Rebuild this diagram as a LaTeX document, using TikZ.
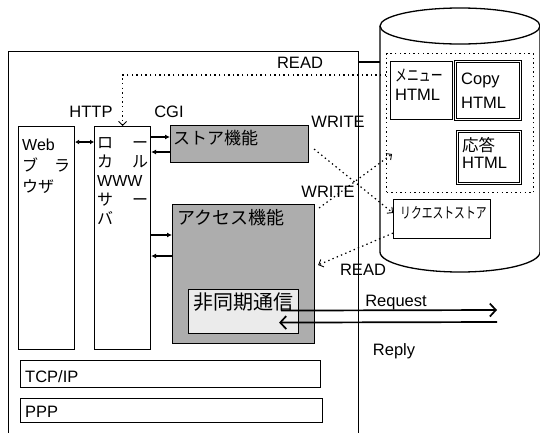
\documentclass[tikz,border=0pt]{standalone}
\usepackage{fontspec}
\setmainfont{Liberation Sans}
\newfontfamily\jp{Noto Sans CJK JP}
\usetikzlibrary{arrows.meta}

\begin{document}
\begin{tikzpicture}[x=1pt, y=-1pt, >=Stealth,
  font=\fontsize{16.5}{19}\selectfont,
  b/.style={draw, line width=1.1pt, inner sep=0pt, anchor=north west},
  shd/.style={b, fill=black!32},
  dbl/.style={b, double, double distance=1.5pt, line width=0.7pt},
  txt/.style={inner sep=0pt, anchor=base west, align=left},
  lbl/.style={inner sep=0pt},
  dots/.style={line width=1.2pt, dash pattern=on 1.4pt off 3.2pt},
  dotarr/.style={dots, -{Straight Barb[length=4pt,width=8pt,line width=0.9pt]}},
  arr/.style={line width=1.1pt, -{Latex[length=5pt,width=5pt]}},
  msg/.style={line width=1.7pt, -{Straight Barb[length=6pt,width=13pt]}}]
  \useasboundingbox (0,0) rectangle (540,432);
  % host pc
  \node[b, line width=1.3pt, minimum width=350pt, minimum height=420pt] (host) at (8,51) {};
  % database
  \draw[line width=1.3pt] (380,26) -- (380,252) arc[start angle=180, end angle=0, x radius=80, y radius=20] -- (540,26);
  \draw[line width=1.3pt, fill=white] (460,26) ellipse[x radius=80, y radius=18];
  \coordinate (dbw) at (380,62);
  \draw[line width=1.3pt] (host.north east |- dbw) -- (dbw);
  \node[b, dots, minimum width=147pt, minimum height=139pt] (html) at (386,53) {};
  \node[b, minimum width=62pt, minimum height=58pt] (menu) at (390,61) {};
  \node[txt, font=\fontsize{16.5}{19}\selectfont] (menutxt) at (395,100) {\scalebox{0.72}[1]{\jp メニュー}\\HTML};
  \node[dbl, minimum width=65pt, minimum height=58pt] (copy) at (455,61) {};
  \node[txt, font=\fontsize{16.5}{24}\selectfont] (copytxt) at (461,108) {Copy\\HTML};
  \node[dbl, minimum width=63pt, minimum height=52pt] (resp) at (457,131) {};
  \node[txt, font=\fontsize{16.5}{17}\selectfont] (resptxt) at (462,168) {{\jp 応答}\\HTML};
  \node[b, fill=white, minimum width=97pt, minimum height=39pt] (reqstore) at (393,199) {};
  \node[txt] (reqtxt) at (400,218) {\scalebox{0.72}[1]{\jp\fontsize{15}{17}\selectfont リクエストストア}};
  % browser and server
  \node[b, minimum width=56pt, minimum height=223pt] (web) at (18,126) {};
  \node[txt, text width=48pt, font=\fontsize{16}{21}\selectfont] (webtxt) at (22,150) {Web\\{\jp ブ\hfill ラ}\\{\jp ウザ}};
  \node[b, minimum width=56pt, minimum height=223pt] (local) at (94,126) {};
  \node[txt, text width=51pt, font=\fontsize{16}{19}\selectfont] (localtxt) at (97,148)
    {{\jp ロ\hfill ー}\\{\jp カ\hfill ル}\\WWW\\{\jp サ\hfill ー}\\{\jp バ}};
  \node[shd, minimum width=138pt, minimum height=37pt] (store) at (170,125) {};
  \node[txt, font=\jp\fontsize{17}{19}\selectfont] (storetxt) at (173,144) {ストア機能};
  \node[shd, minimum width=142pt, minimum height=139pt] (access) at (172,204) {};
  \node[txt, font=\jp\fontsize{18}{20}\selectfont] (accesstxt) at (177,224) {アクセス機能};
  \node[b, fill=black!8, minimum width=110pt, minimum height=44pt] (async) at (188,289) {};
  \node[txt, font=\jp\fontsize{20}{22}\selectfont] (asynctxt) at (193,309) {非同期通信};
  \node[b, minimum width=300pt, minimum height=27pt] (tcp) at (20,360) {};
  \node[txt] (tcptxt) at (25,382) {TCP/IP};
  \node[b, minimum width=302pt, minimum height=24pt] (ppp) at (20,398) {};
  \node[txt] (ppptxt) at (25,417) {PPP};
  % labels
  \node[lbl] (http) at (91,112) {HTTP};
  \node[lbl] (cgi) at (169,112) {CGI};
  \node[lbl] (read1) at (300,63) {READ};
  \node[lbl] (write1) at (338,122) {WRITE};
  \node[lbl] (write2) at (328,192) {WRITE};
  \node[lbl] (read2) at (363,270) {READ};
  \node[lbl] (reqlbl) at (396,303) {Request};
  \node[lbl] (replbl) at (394,351) {Reply};
  % connectors
  \draw[<->, line width=1.1pt, >={Latex[length=4pt,width=5pt]}] ([shift={(0,16)}]web.north east) -- ([shift={(0,16)}]local.north west);
  \draw[arr] ([shift={(0,11)}]local.north east) -- ([shift={(0,12)}]store.north west);
  \draw[arr] ([shift={(0,27)}]store.north west) -- ([shift={(0,26)}]local.north east);
  \draw[arr] ([shift={(0,109)}]local.north east) -- ([shift={(0,31)}]access.north west);
  \draw[arr] ([shift={(0,52)}]access.north west) -- ([shift={(0,130)}]local.north east);
  \draw[dotarr] ([shift={(0,22)}]html.north west) -| (local.north);
  \draw[dotarr] ([shift={(5,5)}]store.east) -- ([shift={(0,14)}]reqstore.north west);
  \draw[dotarr] ([shift={(4,4)}]access.north east) -- ([shift={(6,101)}]html.north west);
  \draw[dotarr] ([shift={(0,-6)}]reqstore.south west) -- ([shift={(3,61)}]access.north east);
  \coordinate (reqend) at (497,310);
  \coordinate (repstart) at (497,322);
  \draw[msg] ([shift={(-18,-1)}]async.east) -- (reqend);
  \draw[msg] (repstart) -- ([shift={(-20,11)}]async.east);
\end{tikzpicture}
\end{document}
